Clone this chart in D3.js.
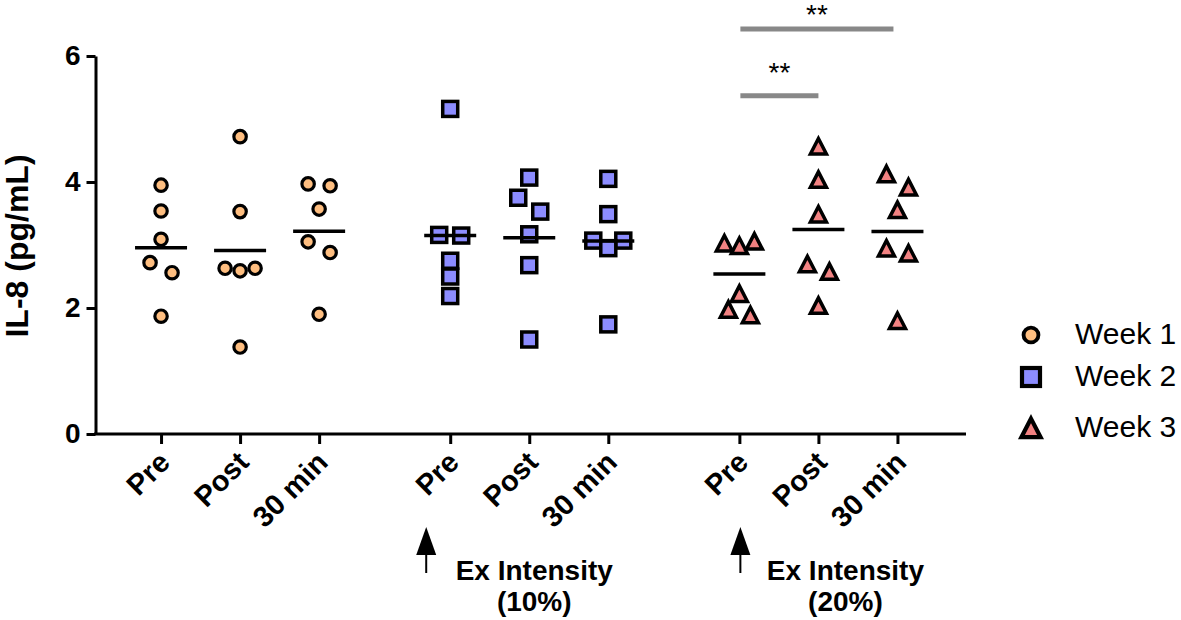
<!DOCTYPE html>
<html>
<head>
<meta charset="utf-8">
<script src="https://cdn.jsdelivr.net/npm/d3@7"></script>
<style>
  body { margin: 0; background: #fff; }
  svg { display: block; }
  text { font-family: "Liberation Sans", Arial, Helvetica, sans-serif; }
</style>
</head>
<body>
<script>
// ---------------- data ----------------
const groups = ["Week 1", "Week 2", "Week 3"];
const timepoints = ["Pre", "Post", "30 min"];
const yTicks = [0, 2, 4, 6];

// values per timepoint (Pre, Post, 30 min), six subjects each
const week1Values = [
  [3.95, 3.54, 3.09, 2.72, 2.56, 1.87],
  [4.72, 3.53, 2.63, 2.59, 2.63, 1.38],
  [3.97, 3.94, 3.57, 3.05, 2.88, 1.90]
];
const week2Values = [
  [5.16, 3.15, 3.16, 2.75, 2.50, 2.19],
  [4.07, 3.75, 3.53, 3.17, 2.68, 1.50],
  [4.05, 3.49, 3.07, 3.07, 2.95, 1.74]
];
const week3Values = [
  [3.04, 3.00, 3.07, 2.24, 1.90, 1.99],
  [4.58, 4.05, 3.50, 2.71, 2.59, 2.05],
  [4.14, 3.93, 3.57, 2.96, 2.88, 1.81]
];

const sigFrom = ["Pre", "Pre"];
const sigTo = ["Post", "30 min"];
const sigBarLevels = [5.37, 6.43];
const sigStarLevels = [5.59, 6.51];
const sigLabels = ["**", "**"];

const intensityGroups = ["Week 2", "Week 3"];
const intensityLabels = ["(10%)", "(20%)"];

// ---------------- layout ----------------
const W = 1181, H = 620;
const axisLeft = 95.5, axisRight = 966, axisBottom = 434, axisTop = 56;

const series = [
  { name: "Week 1", values: week1Values, shape: "circle", fill: "#FEBE80" },
  { name: "Week 2", values: week2Values, shape: "square", fill: "#8C8CFF" },
  { name: "Week 3", values: week3Values, shape: "triangle", fill: "#F28282" }
];

const svg = d3.select("body").append("svg").attr("width", W).attr("height", H);

const y = d3.scaleLinear().domain([0, 6]).range([axisBottom, axisTop]);
const xGroup = d3.scaleBand().domain(groups).range([axisLeft, 963])
  .paddingInner(0.18).paddingOuter(0.09);
const xTime = d3.scalePoint().domain(timepoints).range([0, xGroup.bandwidth()]).padding(0.5);
const xPos = (g, t) => xGroup(g) + xTime(t);

// ---------------- marker drawing ----------------
function drawMarker(sel, shape, fill, big) {
  const k = big ? 1.2 : 1;
  if (shape === "circle") {
    sel.append("circle").attr("r", 6.2 * k).attr("fill", fill)
      .attr("stroke", "#000").attr("stroke-width", 3.2 * k);
  } else if (shape === "square") {
    const s = 15 * k;
    sel.append("rect").attr("x", -s / 2).attr("y", -s / 2).attr("width", s).attr("height", s)
      .attr("fill", fill).attr("stroke", "#000").attr("stroke-width", 3.5 * k);
  } else {
    const p = d3.path();
    p.moveTo(0, -7 * k); p.lineTo(8 * k, 8.5 * k); p.lineTo(-8 * k, 8.5 * k); p.closePath();
    sel.append("path").attr("d", p.toString()).attr("fill", fill)
      .attr("stroke", "#000").attr("stroke-width", 3.5 * k).attr("stroke-linejoin", "miter");
  }
}

// simple column-scatter layout: points closer than a marker height are spread sideways
function scatterOffsets(vals) {
  const idx = vals.map((v, i) => i).sort((a, b) => vals[b] - vals[a]);
  const off = new Array(vals.length).fill(0);
  const clusters = [];
  let cur = [idx[0]];
  for (let i = 1; i < idx.length; i++) {
    const dy = y(vals[idx[i]]) - y(vals[idx[i - 1]]);
    if (dy < 15) cur.push(idx[i]); else { clusters.push(cur); cur = [idx[i]]; }
  }
  clusters.push(cur);
  clusters.forEach(c => {
    if (c.length === 2) { off[c[0]] = -11; off[c[1]] = 11; }
    else if (c.length === 3) { off[c[0]] = 15; off[c[1]] = -15; off[c[2]] = 0; }
    else if (c.length > 3) c.forEach((j, r) => off[j] = (r - (c.length - 1) / 2) * 15);
  });
  return off;
}

// ---------------- axes ----------------
const yAxis = d3.axisLeft(y).tickValues(yTicks).tickSize(9).tickPadding(6).tickSizeOuter(0)
  .tickFormat(d3.format("d"));
const gy = svg.append("g").attr("transform", `translate(${axisLeft},0)`).call(yAxis);
gy.select(".domain").attr("stroke", "#000").attr("stroke-width", 3);
gy.selectAll(".tick line").attr("stroke", "#000").attr("stroke-width", 3);
gy.selectAll(".tick text").attr("fill", "#000").style("font-size", "28px").style("font-weight", "bold")
  .style("font-family", "'Liberation Sans', Arial, sans-serif");

groups.forEach(g => {
  const ax = d3.axisBottom(xTime).tickSize(10).tickSizeOuter(0);
  const gx = svg.append("g").attr("transform", `translate(${xGroup(g)},${axisBottom})`).call(ax);
  gx.select(".domain").remove();
  gx.selectAll(".tick line").attr("stroke", "#000").attr("stroke-width", 3);
  gx.selectAll(".tick text")
    .attr("x", 0).attr("y", 0).attr("dy", 0)
    .attr("transform", "translate(10,30) rotate(-45)")
    .style("text-anchor", "end")
    .attr("fill", "#000")
    .style("font-size", "29px").style("font-weight", "bold")
    .style("font-family", "'Liberation Sans', Arial, sans-serif");
});
svg.append("line").attr("x1", axisLeft - 1.5).attr("x2", axisRight)
  .attr("y1", axisBottom).attr("y2", axisBottom)
  .attr("stroke", "#000").attr("stroke-width", 3);

// y title
svg.append("text")
  .attr("transform", `translate(28,${(axisTop + axisBottom) / 2 + 1}) rotate(-90)`)
  .attr("text-anchor", "middle")
  .style("font-size", "32px").style("font-weight", "bold")
  .text("IL-8 (pg/mL)");

// ---------------- points and means ----------------
series.forEach(s => {
  s.values.forEach((vals, ti) => {
    const t = timepoints[ti];
    const cx = xPos(s.name, t);
    const offs = scatterOffsets(vals);
    const gPts = svg.append("g");
    vals.forEach((v, i) => {
      const m = gPts.append("g").attr("transform", `translate(${cx + offs[i]},${y(v)})`);
      drawMarker(m, s.shape, s.fill, false);
    });
    const mean = d3.mean(vals);
    svg.append("line").attr("x1", cx - 26).attr("x2", cx + 26)
      .attr("y1", y(mean)).attr("y2", y(mean))
      .attr("stroke", "#000").attr("stroke-width", 3.5);
  });
});

// ---------------- significance bars ----------------
sigBarLevels.forEach((lv, i) => {
  const x1 = xPos("Week 3", sigFrom[i]) + 1;
  const x2 = xPos("Week 3", sigTo[i]) - (i === 1 ? 4 : 0);
  svg.append("line").attr("x1", x1).attr("x2", x2).attr("y1", y(lv)).attr("y2", y(lv))
    .attr("stroke", "#888").attr("stroke-width", 5);
  svg.append("text").attr("x", (x1 + x2) / 2).attr("y", y(sigStarLevels[i]))
    .attr("text-anchor", "middle").style("font-size", "28px").attr("fill", "#000")
    .text(sigLabels[i]);
});

// ---------------- intensity annotations ----------------
const arrowDx = [-24, 1];
const labelDx = [5, 27];
intensityGroups.forEach((g, i) => {
  const ax = xPos(g, "Pre") + arrowDx[i];
  const head = d3.path();
  head.moveTo(ax, 527); head.lineTo(ax + 10, 555); head.lineTo(ax - 10, 555); head.closePath();
  svg.append("path").attr("d", head.toString()).attr("fill", "#000");
  svg.append("line").attr("x1", ax).attr("x2", ax).attr("y1", 554).attr("y2", 573)
    .attr("stroke", "#000").attr("stroke-width", 2);
  const lx = xPos(g, "Post") + labelDx[i];
  svg.append("text").attr("x", lx).attr("y", 580).attr("text-anchor", "middle")
    .style("font-size", "28px").style("font-weight", "bold").text("Ex Intensity");
  svg.append("text").attr("x", lx).attr("y", 611).attr("text-anchor", "middle")
    .style("font-size", "28px").style("font-weight", "bold").text(intensityLabels[i]);
});

// ---------------- legend ----------------
const legendY = [335, 377, 427];
const legendTextY = [344, 386, 437];
series.forEach((s, i) => {
  const m = svg.append("g").attr("transform", `translate(1031,${legendY[i]})`);
  drawMarker(m, s.shape, s.fill, true);
  svg.append("text").attr("x", 1075).attr("y", legendTextY[i])
    .style("font-size", "30px").attr("fill", "#000").text(s.name);
});
</script>
</body>
</html>
